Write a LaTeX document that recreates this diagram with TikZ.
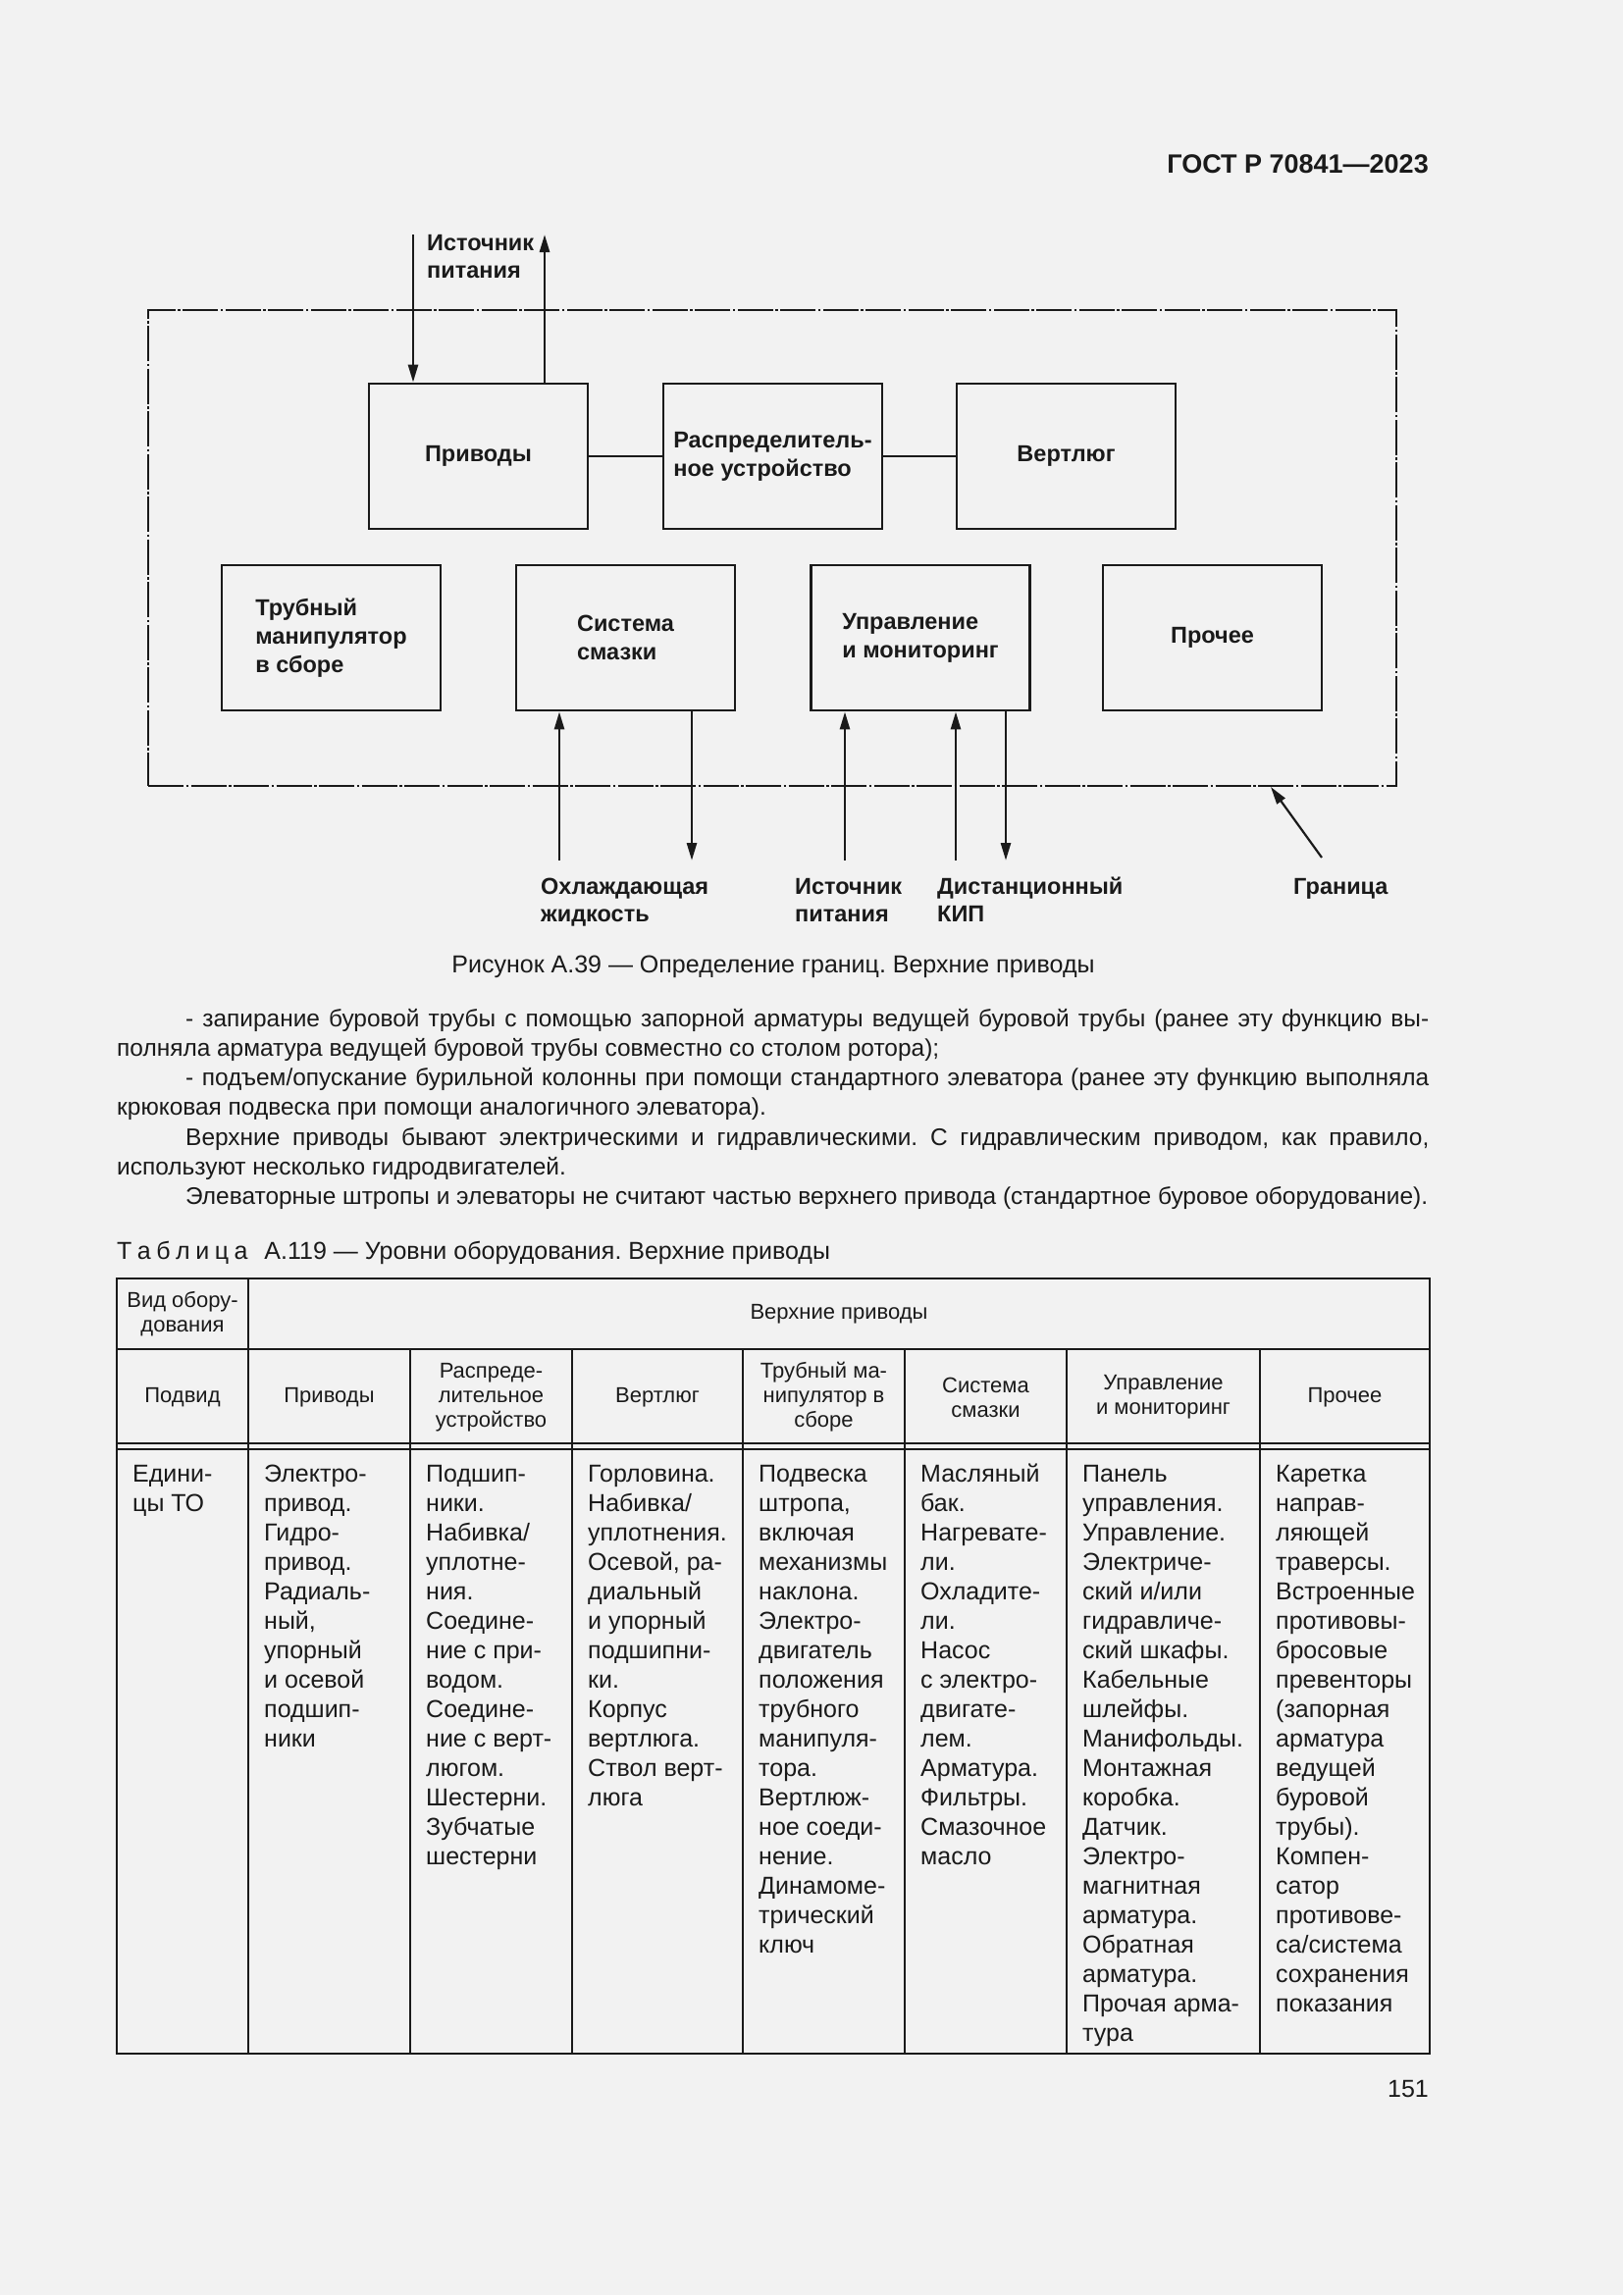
\documentclass[tikz,border=0pt]{standalone}
\usepackage{fontspec}
\setmainfont{Liberation Sans}
\usetikzlibrary{arrows.meta,calc}
\definecolor{pagebg}{HTML}{F2F2F2}
\definecolor{ink}{HTML}{1A1A1A}
\newcommand\mlines[1]{\begin{tabular}[t]{@{}l@{}}#1\end{tabular}}
\frenchspacing
\begin{document}
\begin{tikzpicture}[x=1pt,y=-1pt,color=ink,
  lbl/.style={font=\fontsize{23.5}{28.5}\selectfont\bfseries, inner sep=0pt},
  blk/.style={draw=ink, line width=2.8pt, minimum width=223pt, minimum height=148pt,
    inner sep=0pt, align=left, font=\fontsize{23.5}{29}\selectfont\bfseries},
  bnd/.style={draw=ink, line width=2pt, dash pattern=on 36pt off 2.5pt on 2.5pt off 2.5pt,
    minimum width=1272pt, minimum height=485pt, inner sep=0pt},
  link/.style={draw=ink, line width=2.8pt},
  arr/.style={draw=ink, line width=2.6pt, -{Triangle[length=18pt,width=10pt]}},
  body/.style={font=\fontsize{25}{30}\selectfont, inner sep=0pt},
  hd/.style={font=\fontsize{22}{25}\selectfont, inner sep=0pt, align=center},
  cell/.style={font=\fontsize{25}{30}\selectfont, inner sep=0pt, anchor=base west},
  tbl/.style={draw=ink, line width=2.5pt},
  tblthin/.style={draw=ink, line width=1.4pt}
]
\useasboundingbox (0,0) rectangle (1654,2339);
\fill[pagebg] (0,0) rectangle (1654,2339);

% header
\node[anchor=base east, inner sep=0pt, font=\fontsize{27}{32}\selectfont\bfseries] (hdr) at (1456,176) {ГОСТ Р 70841—2023};

% boundary
\node[bnd] (bound) at (787,558.5) {};

% blocks
\node[blk] (priv) at (487.5,465) {Приводы};
\node[blk] (rasp) at (787.5,465) {Распределитель-\\ное устройство};
\node[blk] (vert) at (1086.5,465) {Вертлюг};
\node[blk] (trub) at (337.5,650) {Трубный\\манипулятор\\в сборе};
\node[blk] (smaz) at (637.5,650) {Система\\смазки};
\node[blk] (upr) at (938,650) {Управление\\и мониторинг};
\node[blk] (proch) at (1235.5,650) {Прочее};

\draw[link] (priv.east) -- (rasp.west);
\draw[link] (rasp.east) -- (vert.west);

% top arrows
\coordinate (srcIn) at (421,239);
\coordinate (srcOut) at (555,239);
\draw[arr] (srcIn) -- (srcIn |- priv.north);
\draw[arr] (srcOut |- priv.north) -- (srcOut);
\node[lbl, anchor=base west] (lsrc) at (435,255) {\mlines{Источник\\питания}};

% bottom arrows
\coordinate (cool1) at (570,877);
\coordinate (cool2) at (705,877);
\coordinate (pw) at (861,877);
\coordinate (kip1) at (974,877);
\coordinate (kip2) at (1025,877);
\coordinate (gr) at (1347,874);
\draw[arr] (cool1) -- (cool1 |- smaz.south);
\draw[arr] (cool2 |- smaz.south) -- (cool2);
\draw[arr] (pw) -- (pw |- upr.south);
\draw[arr] (kip1) -- (kip1 |- upr.south);
\draw[arr] (kip2 |- upr.south) -- (kip2);
\draw[arr, line width=2.2pt] (gr) -- ([xshift=508pt]bound.south);

\node[lbl, anchor=base west] (lcool) at (551,911) {\mlines{Охлаждающая\\жидкость}};
\node[lbl, anchor=base west] (lpw) at (810,911) {\mlines{Источник\\питания}};
\node[lbl, anchor=base west] (lkip) at (955,911) {\mlines{Дистанционный\\КИП}};
\node[lbl, anchor=base west] (lgr) at (1318,911) {Граница};

% figure caption
\node[body, anchor=base] (fcap) at (788,991) {Рисунок А.39 — Определение границ. Верхние приводы};

% paragraphs
\node[body, anchor=base west, font=\fontsize{24.45}{30.3}\selectfont] (para) at (119,1046) {\parbox[t]{1337pt}{\setlength{\parindent}{70pt}%
- запирание буровой трубы с помощью запорной арматуры ведущей буровой трубы (ранее эту функцию вы-\linebreak
полняла арматура ведущей буровой трубы совместно со столом ротора);\par
- подъем/опускание бурильной колонны при помощи стандартного элеватора (ранее эту функцию выполняла\linebreak
крюковая подвеска при помощи аналогичного элеватора).\par
Верхние приводы бывают электрическими и гидравлическими. С гидравлическим приводом, как правило,\linebreak
используют несколько гидродвигателей.\par
Элеваторные штропы и элеваторы не считают частью верхнего привода (стандартное буровое оборудование).}};

% table caption
\node[body, anchor=base west] (tcap) at (119,1283) {Т\hspace{5.5pt}а\hspace{5.5pt}б\hspace{5.5pt}л\hspace{5.5pt}и\hspace{5.5pt}ц\hspace{5.5pt}а\hspace{17pt}А.119 — Уровни оборудования. Верхние приводы};

% table grid
\draw[tbl] (119,1303) rectangle (1457,2093);
\draw[tbl] (119,1375) -- (1457,1375);
\draw[tbl] (119,1471) -- (1457,1471);
\draw[tblthin] (119,1477) -- (1457,1477);
\draw[tbl] (253,1303) -- (253,2093);
\foreach \xx in {418,583,757,922,1087,1284} {\draw[tbl] (\xx,1375) -- (\xx,2093);}

% table header
\node[hd] (h0) at (186,1339) {Вид обору-\\дования};
\node[hd] (h00) at (855,1339) {Верхние приводы};
\node[hd] (h1) at (186,1424) {Подвид};
\node[hd] (h2) at (335.5,1424) {Приводы};
\node[hd] (h3) at (500.5,1424) {Распреде-\\лительное\\устройство};
\node[hd] (h4) at (670,1424) {Вертлюг};
\node[hd] (h5) at (839.5,1424) {Трубный ма-\\нипулятор в\\сборе};
\node[hd] (h6) at (1004.5,1424) {Система\\смазки};
\node[hd] (h7) at (1185.5,1424) {Управление\\и мониторинг};
\node[hd] (h8) at (1370.5,1424) {Прочее};

% table body
\node[cell] (c1) at (135,1510) {\mlines{Едини-\\цы ТО}};
\node[cell] (c2) at (269,1510) {\mlines{Электро-\\привод.\\Гидро-\\привод.\\Радиаль-\\ный,\\упорный\\и осевой\\подшип-\\ники}};
\node[cell] (c3) at (434,1510) {\mlines{Подшип-\\ники.\\Набивка/\\уплотне-\\ния.\\Соедине-\\ние с при-\\водом.\\Соедине-\\ние с верт-\\люгом.\\Шестерни.\\Зубчатые\\шестерни}};
\node[cell] (c4) at (599,1510) {\mlines{Горловина.\\Набивка/\\уплотнения.\\Осевой, ра-\\диальный\\и упорный\\подшипни-\\ки.\\Корпус\\вертлюга.\\Ствол верт-\\люга}};
\node[cell] (c5) at (773,1510) {\mlines{Подвеска\\штропа,\\включая\\механизмы\\наклона.\\Электро-\\двигатель\\положения\\трубного\\манипуля-\\тора.\\Вертлюж-\\ное соеди-\\нение.\\Динамоме-\\трический\\ключ}};
\node[cell] (c6) at (938,1510) {\mlines{Масляный\\бак.\\Нагревате-\\ли.\\Охладите-\\ли.\\Насос\\с электро-\\двигате-\\лем.\\Арматура.\\Фильтры.\\Смазочное\\масло}};
\node[cell] (c7) at (1103,1510) {\mlines{Панель\\управления.\\Управление.\\Электриче-\\ский и/или\\гидравличе-\\ский шкафы.\\Кабельные\\шлейфы.\\Манифольды.\\Монтажная\\коробка.\\Датчик.\\Электро-\\магнитная\\арматура.\\Обратная\\арматура.\\Прочая арма-\\тура}};
\node[cell] (c8) at (1300,1510) {\mlines{Каретка\\направ-\\ляющей\\траверсы.\\Встроенные\\противовы-\\бросовые\\превенторы\\(запорная\\арматура\\ведущей\\буровой\\трубы).\\Компен-\\сатор\\противове-\\са/система\\сохранения\\показания}};

% page number
\node[body, anchor=base east] (pg) at (1456,2137) {151};
\end{tikzpicture}
\end{document}
